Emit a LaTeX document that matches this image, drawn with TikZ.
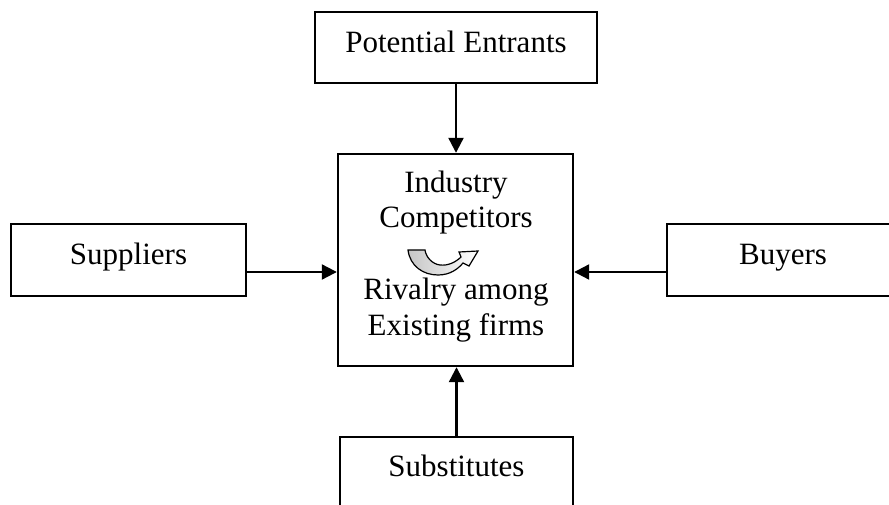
\documentclass[tikz,border=0pt]{standalone}
\usepackage{fontspec}
\setmainfont{Liberation Serif}
\usetikzlibrary{arrows.meta}
\begin{document}
\begin{tikzpicture}[x=1pt,y=-1pt,
  box/.style={draw, line width=2.4pt, inner sep=0pt},
  lbl/.style={font=\fontsize{31}{35}\selectfont, inner sep=0pt, anchor=base},
  link/.style={line width=2.2pt, -{Triangle[length=15pt,width=15pt]}}]
\clip (0,0) rectangle (889,505);
\fill[white] (0,0) rectangle (889,505);

% boxes
\node[box, minimum width=282pt, minimum height=71pt] (entrants) at (456,47.5) {};
\node[box, minimum width=235pt, minimum height=212pt] (center) at (455.5,260) {};
\node[box, minimum width=235pt, minimum height=72pt] (suppliers) at (128.5,260) {};
\node[box, minimum width=232pt, minimum height=72pt] (buyers) at (783,260) {};
\node[box, minimum width=233pt, minimum height=90pt] (subst) at (456.5,482) {};

% labels
\node[lbl] (entrants-t) at (456,53) {Potential Entrants};
\node[lbl] (suppliers-t) at (128.5,265) {Suppliers};
\node[lbl] (buyers-t) at (783,265) {Buyers};
\node[lbl] (subst-t) at (456.5,476) {Substitutes};
\node[lbl] (c1) at (456,193) {Industry};
\node[lbl] (c2) at (456,228) {Competitors};
\node[lbl] (c3) at (456,299) {Rivalry among};
\node[lbl] (c4) at (456,335) {Existing firms};

% curved rivalry arrow
\path[draw=black, line width=1.2pt, shading=axis, left color=gray!45, right color=white, shading angle=90]
  (408,250) .. controls (410,266) and (423,275) .. (438,275)
  .. controls (450,275) and (458,269) .. (463,263)
  -- (469,266) -- (478,251) -- (459,252) -- (461,257)
  .. controls (456,262) and (448,266) .. (440,265)
  .. controls (432,264) and (426,257) .. (425,250) -- cycle;

% forces
\draw[link] (entrants.south) -- (entrants.south |- center.north);
\draw[link] (subst.north) -- (subst.north |- center.south);
\draw[link] ([yshift=-12pt]suppliers.east) -- ([yshift=-12pt]suppliers.east -| center.west);
\draw[link] ([yshift=-12pt]buyers.west) -- ([yshift=-12pt]buyers.west -| center.east);
\end{tikzpicture}
\end{document}
